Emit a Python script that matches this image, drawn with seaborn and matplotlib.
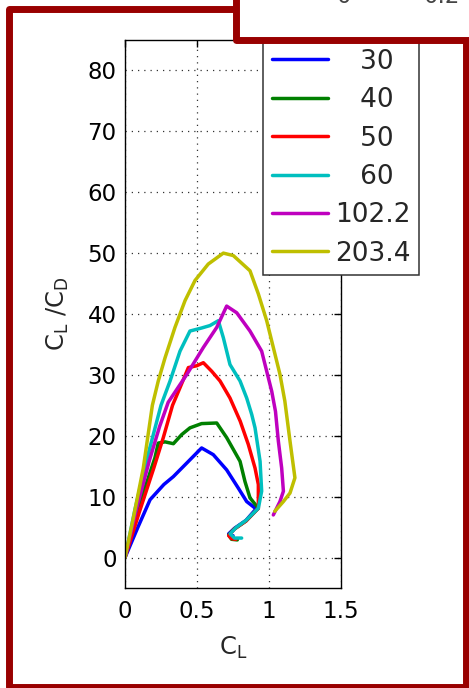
import numpy as np
import pandas as pd
import matplotlib
matplotlib.use("Agg")
import matplotlib.pyplot as plt
import seaborn as sns
from matplotlib.patches import Rectangle

# ---- data ------------------------------------------------------------------
series = ["30", "40", "50", "60", "102.2", "203.4"]

cl_30 = [0, 0.09, 0.174, 0.27, 0.336, 0.428, 0.532, 0.613, 0.706, 0.787, 0.845, 0.91,
         0.84, 0.76, 0.72, 0.73, 0.75]
ld_30 = [0, 5.0, 9.5, 12.0, 13.3, 15.5, 18.0, 16.9, 14.4, 11.4, 9.2, 8.0,
         6.1, 4.8, 3.9, 3.4, 3.6]

cl_40 = [0, 0.08, 0.162, 0.208, 0.231, 0.278, 0.336, 0.394, 0.451, 0.532, 0.637, 0.706,
         0.799, 0.833, 0.868, 0.926, 0.84, 0.76, 0.72, 0.74, 0.78]
ld_40 = [0, 7.6, 13.1, 16.4, 18.8, 19.0, 18.7, 20.2, 21.3, 22.0, 22.1, 19.7,
         15.8, 12.5, 9.8, 8.1, 6.0, 4.7, 3.7, 3.0, 2.9]

cl_50 = [0, 0.10, 0.20, 0.266, 0.33, 0.382, 0.44, 0.498, 0.544, 0.602, 0.66, 0.729,
         0.80, 0.856, 0.903, 0.926, 0.926, 0.84, 0.76, 0.72, 0.74, 0.77]
ld_50 = [0, 7.5, 14.7, 19.7, 25.0, 27.9, 31.2, 31.5, 32.0, 30.6, 29.0, 26.2,
         22.4, 18.6, 14.7, 12.0, 8.1, 6.0, 4.7, 3.6, 3.1, 3.0]

cl_60 = [0, 0.07, 0.15, 0.25, 0.313, 0.382, 0.451, 0.532, 0.59, 0.648, 0.683, 0.729,
         0.799, 0.845, 0.88, 0.903, 0.938, 0.949, 0.926, 0.84, 0.77, 0.73, 0.76, 0.81]
ld_60 = [0, 8.0, 16.0, 25.0, 29.0, 33.9, 37.2, 37.7, 38.1, 38.9, 36.1, 31.7,
         29.0, 26.2, 23.5, 21.3, 15.8, 10.9, 8.1, 6.1, 4.9, 3.9, 3.2, 3.2]

cl_102 = [0, 0.08, 0.17, 0.24, 0.30, 0.43, 0.544, 0.637, 0.706, 0.776, 0.868, 0.949,
          0.984, 1.019, 1.045, 1.065, 1.088, 1.10, 1.076, 1.03]
ld_102 = [0, 8.0, 16.0, 21.5, 25.5, 30.1, 34.5, 37.8, 41.3, 40.2, 37.2, 33.9,
          30.6, 27.3, 24.0, 19.1, 14.7, 10.9, 9.2, 7.0]

cl_203 = [0, 0.058, 0.127, 0.19, 0.231, 0.278, 0.347, 0.417, 0.486, 0.578, 0.683, 0.752,
          0.868, 0.926, 0.984, 1.03, 1.076, 1.11, 1.146, 1.18, 1.146, 1.10, 1.04]
ld_203 = [0, 6.5, 14.7, 25.0, 29.0, 32.8, 37.8, 42.2, 45.5, 48.2, 50.0, 49.6,
          47.1, 43.3, 38.9, 34.5, 30.1, 25.7, 19.1, 13.1, 10.6, 9.2, 7.6]

xticks = [0, 0.5, 1, 1.5]
xticklabels = ["0", "0.5", "1", "1.5"]
yticks = list(range(0, 81, 10))

colors = ["#0000ff", "#008000", "#ff0000", "#00bfbf", "#bf00bf", "#bfbf00"]

frames = []
for name, cl, ld in zip(series,
                        [cl_30, cl_40, cl_50, cl_60, cl_102, cl_203],
                        [ld_30, ld_40, ld_50, ld_60, ld_102, ld_203]):
    frames.append(pd.DataFrame({"CL": cl, "LD": ld, "Re": name}))
df = pd.concat(frames, ignore_index=True)

# ---- figure ----------------------------------------------------------------
sns.set_style("white")
plt.rcParams["font.family"] = ["DejaVu Sans"]
plt.rcParams["mathtext.fontset"] = "dejavusans"

W, H = 469, 688
fig = plt.figure(figsize=(W / 100, H / 100), dpi=100)
fig.patch.set_facecolor("white")
ax = fig.add_axes([125 / W, 1 - 588 / H, (341 - 125) / W, (588 - 40) / H])

sns.lineplot(data=df, x="CL", y="LD", hue="Re", hue_order=series,
             palette=dict(zip(series, colors)), sort=False, estimator=None,
             lw=2.5, ax=ax)

ax.set_xlim(0, 1.5)
ax.set_ylim(-5, 85)
ax.set_xticks(xticks)
ax.set_xticklabels(xticklabels)
ax.set_yticks(yticks)
ax.tick_params(direction="in", length=5, width=1, top=True, right=True,
               labelsize=16.5, colors="black")
ax.tick_params(axis="x", pad=9)
ax.tick_params(axis="y", pad=6)
for s in ax.spines.values():
    s.set_color("black")
    s.set_linewidth(1.0)
ax.grid(True, color="#333333", linestyle=(0, (1, 4)), linewidth=0.9)

ax.set_xlabel(r"$\mathregular{C_L}$", fontsize=17.5, labelpad=8)
ax.set_ylabel(r"$\mathregular{C_L\ /C_D}$", fontsize=17.5, labelpad=12)

handles, labels = ax.get_legend_handles_labels()
pretty = ["   30", "   40", "   50", "   60", "102.2", "203.4"]
leg = ax.legend(handles, pretty, loc="upper left", bbox_to_anchor=(0.639, 1.0),
                borderaxespad=0, fontsize=19, handlelength=2.15, handletextpad=0.25,
                borderpad=0.33, labelspacing=0.47, fancybox=False, framealpha=1,
                edgecolor="#333333")
leg.get_frame().set_linewidth(1.1)
for ln in leg.get_lines():
    ln.set_linewidth(2.5)

# ---- surrounding dark-red frames -------------------------------------------
red = "#990000"
def fx(p):
    return p / W
def fy(p):
    return 1 - p / H

outer = Rectangle((fx(9), fy(686.5)), fx(465.5) - fx(9), fy(9) - fy(686.5),
                  transform=fig.transFigure, fill=False, edgecolor=red,
                  linewidth=5.0, joinstyle="round", zorder=5)
fig.add_artist(outer)
panel = Rectangle((fx(235.5), fy(39.5)), fx(520) - fx(235.5), fy(-40) - fy(39.5),
                  transform=fig.transFigure, facecolor="white", edgecolor=red,
                  linewidth=5.0, joinstyle="round", zorder=6)
fig.add_artist(panel)
fig.text(fx(344), fy(3), "0", ha="center", va="baseline", fontsize=16.5,
         color="#444444", zorder=7)
fig.text(fx(442), fy(3), "0.2", ha="center", va="baseline", fontsize=16.5,
         color="#444444", zorder=7)

fig.savefig("out.png", dpi=100)
